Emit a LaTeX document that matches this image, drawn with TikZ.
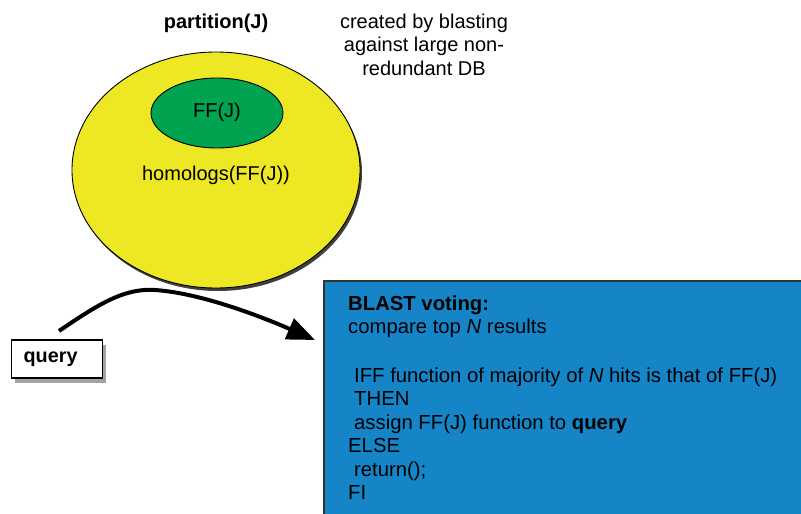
\documentclass[tikz,border=0pt]{standalone}
\usepackage{fontspec}
\setmainfont{Liberation Sans}
\usetikzlibrary{shapes.geometric,shadows,arrows.meta}

\definecolor{setyellow}{RGB}{238,232,36}
\definecolor{setgreen}{RGB}{0,164,80}
\definecolor{voteblue}{RGB}{22,133,200}

\tikzset{
  txt/.style={inner sep=0pt, anchor=base, font=\fontsize{20}{23.5}\selectfont},
  ltxt/.style={txt, anchor=base west, font=\fontsize{20.3}{23.5}\selectfont},
  setblob/.style={ellipse, draw=black, line width=0.9pt, inner sep=0pt},
  votebox/.style={rectangle, draw=black!80, line width=1.6pt, fill=voteblue,
    inner sep=0pt, anchor=north west},
  querybox/.style={rectangle, draw=black, line width=1.3pt, fill=white,
    anchor=west, inner xsep=12pt, minimum height=38pt, text width=67pt, align=left,
    font=\fontsize{19.8}{23.5}\selectfont\bfseries,
    drop shadow={shadow xshift=3pt, shadow yshift=-5pt, fill=black!45, opacity=0.8}},
  flow/.style={line width=4pt, -{Triangle[length=28pt, width=22pt]}}
}

\begin{document}
\begin{tikzpicture}[x=1pt, y=-1pt]
  \useasboundingbox (0,0) rectangle (801,514);
  \clip (0,0) rectangle (801,514);

  % outer set: homologs of the functional family
  \node[setblob, fill=setyellow, minimum width=288pt, minimum height=236pt,
        drop shadow={shadow xshift=2pt, shadow yshift=-3pt, fill=black!75, opacity=1}]
        (homset) at (216,170) {};
  % inner set: the functional family itself
  \node[setblob, fill=setgreen, minimum width=132pt, minimum height=70pt]
        (ffset) at (217,113) {};
  \node[txt] (fflabel) at (217,117) {FF(J)};
  \node[txt] (homlabel) at (216,180) {homologs(FF(J))};

  % captions
  \node[txt, font=\fontsize{20}{23.5}\selectfont\bfseries] (parttitle) at (216,28) {partition(J)};
  \node[txt] (note1) at (424,28) {created by blasting};
  \node[txt] (note2) at (424,51.5) {against large non-};
  \node[txt] (note3) at (424,75) {redundant DB};

  % voting procedure panel
  \node[votebox, minimum width=520pt, minimum height=260pt] (vote) at (323,280) {};
  \node[ltxt, font=\fontsize{20.3}{23.5}\selectfont\bfseries] (v1) at (348,310) {BLAST voting:};
  \node[ltxt] (v2) at (348,333) {compare top \textit{N} results};
  \node[ltxt] (v3) at (354,382) {IFF function of majority of \textit{N} hits is that of FF(J)};
  \node[ltxt] (v4) at (354,405.5) {THEN};
  \node[ltxt] (v5) at (354,429) {assign FF(J) function to \textbf{query}};
  \node[ltxt] (v6) at (348,452.5) {ELSE};
  \node[ltxt] (v7) at (354,476) {return();};
  \node[ltxt] (v8) at (348,499.5) {FI};

  % query box and the flow into the panel
  \node[querybox] (query) at (11,359) {query};
  \coordinate (qstart) at (59,331);
  \coordinate (qend) at (315,340);
  \draw[flow] (qstart) .. controls (100,303) and (125,288) .. (155,290)
                        .. controls (200,293) and (260,316) .. (qend);
\end{tikzpicture}
\end{document}
